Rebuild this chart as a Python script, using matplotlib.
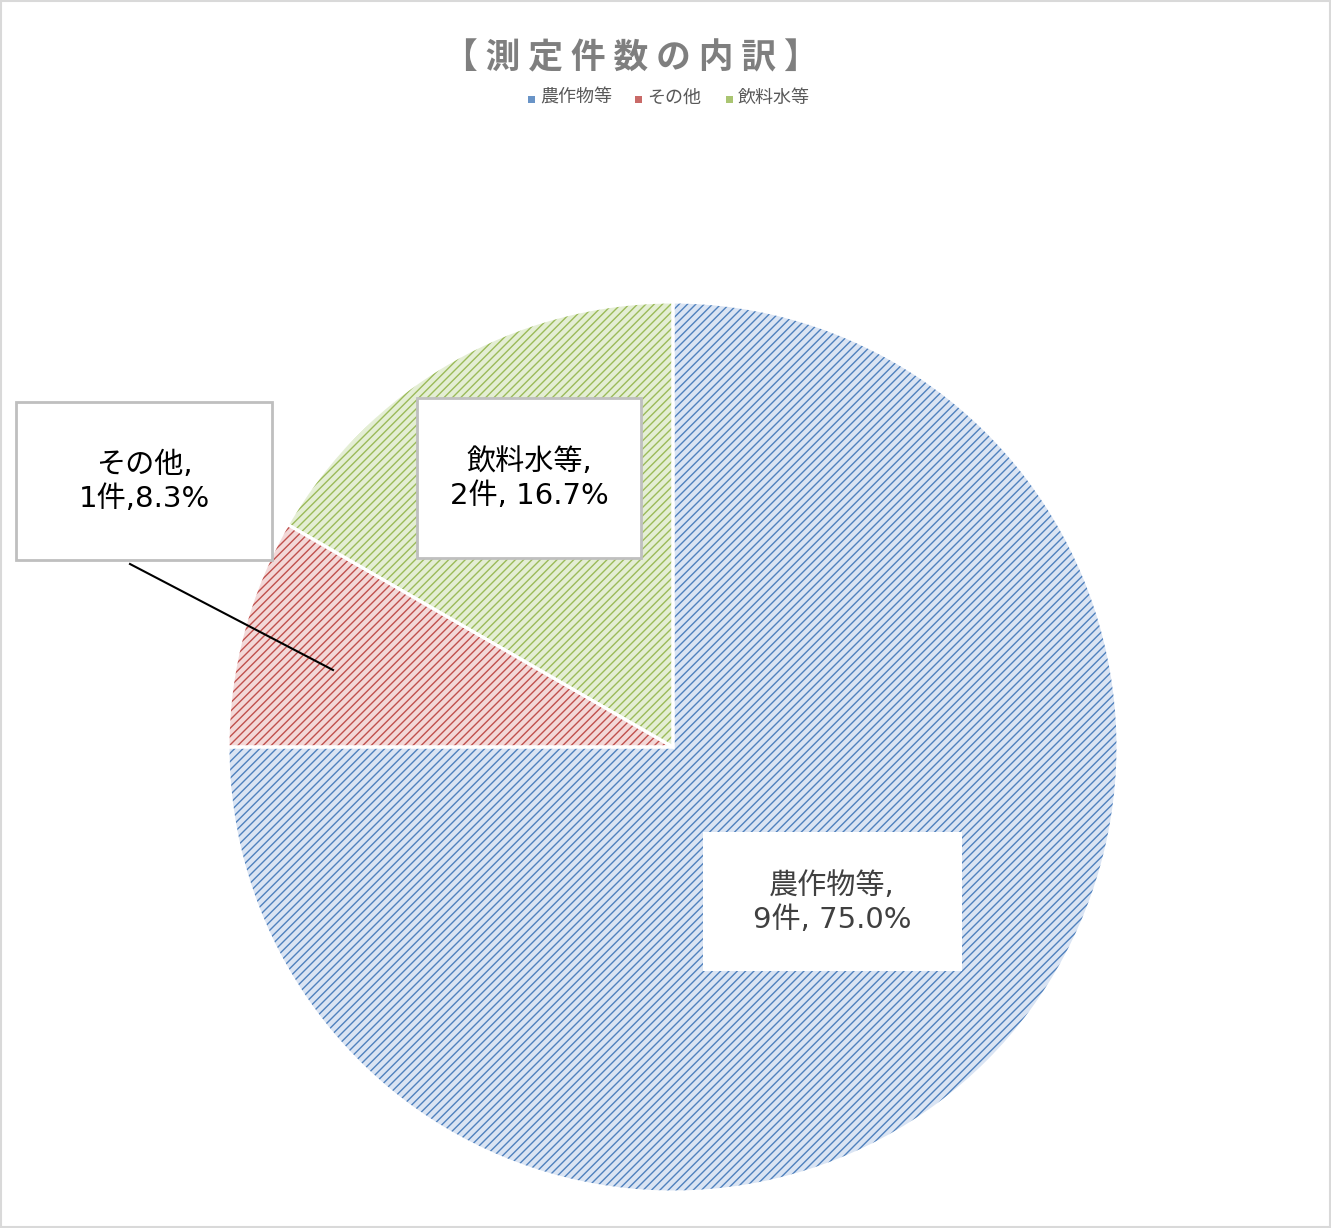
import matplotlib
matplotlib.use("Agg")
import matplotlib.pyplot as plt
from matplotlib.patches import Rectangle

plt.rcParams['font.family'] = ['Noto Sans CJK JP', 'DejaVu Sans']
plt.rcParams['hatch.linewidth'] = 1.0

# ---- data ----
title = "【 測 定 件 数 の 内 訳 】"
categories = ["農作物等", "その他", "飲料水等"]
counts = [9, 1, 2]
separators = [", ", ",", ", "]
face_colors = ["#dae4f3", "#f3d8d8", "#e4eed4"]
hatch_colors = ["#4f81bd", "#c0504d", "#9bbb59"]
label_colors = ["#404040", "#000000", "#000000"]
label_centers = [(832, 903), (144, 482), (529, 479)]  # px

W, H = 1331, 1228
fig = plt.figure(figsize=(W / 100, H / 100), dpi=100)
ax = fig.add_axes([0, 0, 1, 1])

cx, cy, R = 673, H - 747, 445
wedges, _ = ax.pie(counts, startangle=90, counterclock=False, center=(cx, cy), radius=R,
                   colors=face_colors, wedgeprops=dict(linewidth=0))
for w, hc in zip(wedges, hatch_colors):
    w.set_edgecolor(hc)
    w.set_hatch('////')
    w.set_linewidth(0)
# white separators
ax.pie(counts, startangle=90, counterclock=False, center=(cx, cy), radius=R,
       colors=['none'] * 3, wedgeprops=dict(linewidth=2.2, edgecolor='white'))

ax.set_xlim(0, W)
ax.set_ylim(0, H)
ax.set_aspect('equal')
ax.axis('off')

total = sum(counts)
for i, (name, c) in enumerate(zip(categories, counts)):
    pct = c / total * 100
    txt = f"{name},\n{c}件{separators[i]}{pct:.1f}%"
    x, y = label_centers[i]
    ax.text(x, H - y, txt, ha='center', va='center', fontsize=21, color=label_colors[i],
            family=['DejaVu Sans', 'Noto Sans CJK JP'], linespacing=1.3, zorder=5)

# label boxes
boxes = [(703, 832, 962, 971, 'none'), (16, 402, 272, 560, '#bfbfbf'), (417, 398, 641, 558, '#bfbfbf')]
for (x0, y0, x1, y1, ec) in boxes:
    ax.add_patch(Rectangle((x0, H - y1), x1 - x0, y1 - y0, facecolor='white',
                           edgecolor=ec, linewidth=2, zorder=4))
# leader line
ax.plot([130, 333], [H - 564, H - 670], color='black', linewidth=1.5, zorder=4)

# title
fig.text(631 / W, 1 - 58 / H, title, ha='center', va='center',
         fontsize=25, fontweight='bold', color='#7f7f7f')

# legend (manual)
leg_marker_x = [531, 638, 729]
leg_y = 99
for mx, name, fc, hc in zip(leg_marker_x, categories, face_colors, hatch_colors):
    p = Rectangle(((mx - 3.5) / W, 1 - (leg_y + 3.5) / H), 7 / W, 7 / H, transform=fig.transFigure,
                  facecolor=hc, edgecolor='none', linewidth=0, alpha=0.85)
    fig.add_artist(p)
    fig.text((mx + 9) / W, 1 - (leg_y - 1) / H, name, ha='left', va='center', fontsize=13,
             color='#595959')

# outer border
fig.add_artist(Rectangle((0.0005, 0.0005), 0.999, 0.999, transform=fig.transFigure,
                         fill=False, edgecolor='#d9d9d9', linewidth=1.5))

fig.savefig("out.png", dpi=100, facecolor='white')
